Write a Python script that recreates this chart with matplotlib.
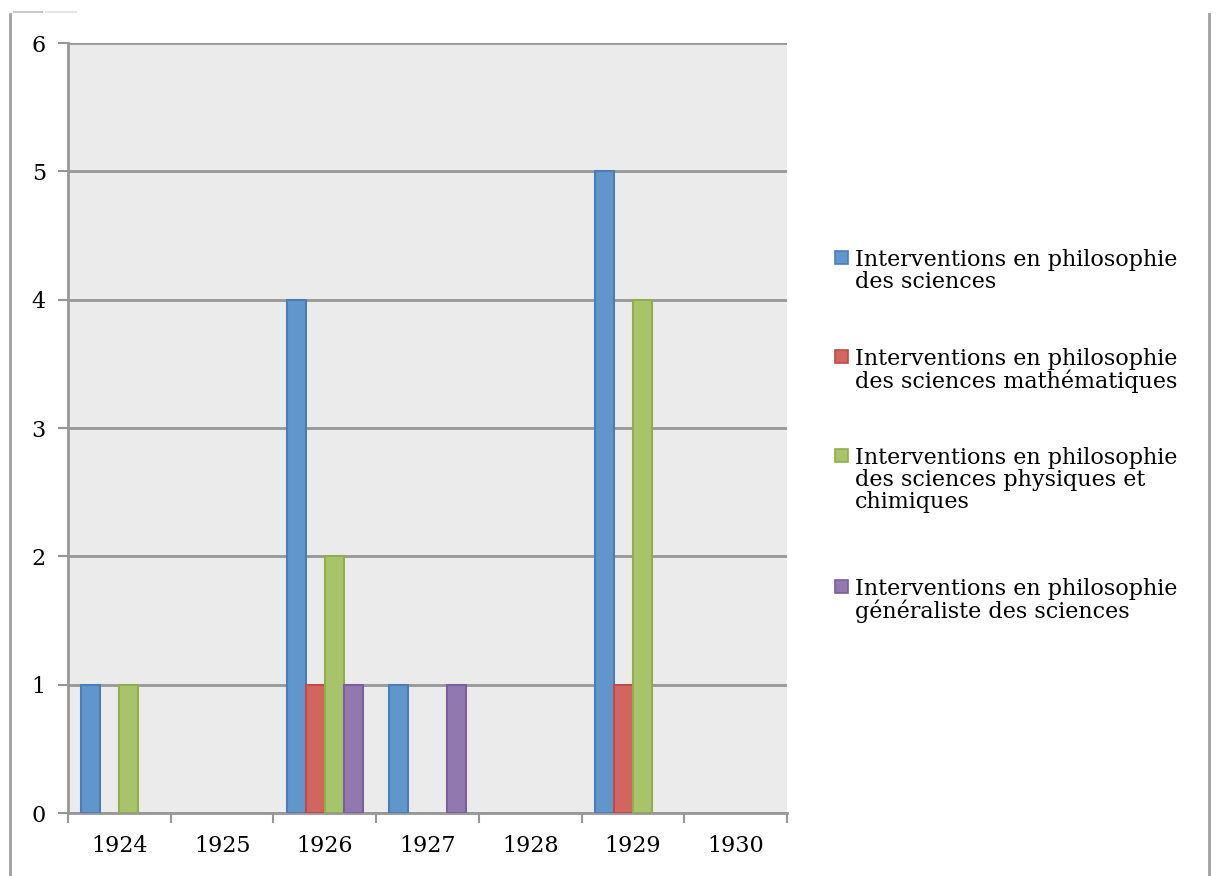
import matplotlib
matplotlib.use("Agg")
import matplotlib.pyplot as plt
from matplotlib.patches import Rectangle
from matplotlib.lines import Line2D
import numpy as np

years = ["1924", "1925", "1926", "1927", "1928", "1929", "1930"]
series_names = [
    "Interventions en philosophie\ndes sciences",
    "Interventions en philosophie\ndes sciences mathématiques",
    "Interventions en philosophie\ndes sciences physiques et\nchimiques",
    "Interventions en philosophie\ngénéraliste des sciences",
]
blue = [1, 0, 4, 1, 0, 5, 0]
red = [0, 0, 1, 0, 0, 1, 0]
green = [1, 0, 2, 0, 0, 4, 0]
purple = [0, 0, 1, 1, 0, 0, 0]
y_ticks = [0, 1, 2, 3, 4, 5, 6]

fills = ["#6096CC", "#D2665F", "#A8C46A", "#9179B0"]
edges = ["#4A7EBB", "#BE4B48", "#8FAF4E", "#7A5F9C"]

FONT = "DejaVu Serif"
FS = 16

fig = plt.figure(figsize=(12.21, 8.76), dpi=100)
ax = fig.add_axes([68/1221, 1-813/876, (787-68)/1221, (813-43)/876])
ax.set_facecolor("#EBEBEB")

bw = 0.185
start = 0.13
for k, vals in enumerate([blue, red, green, purple]):
    xs = [i + start + bw*k for i, v in enumerate(vals) if v > 0]
    hs = [v for v in vals if v > 0]
    ax.bar(xs, hs, width=bw, align="edge", color=fills[k], edgecolor=edges[k],
           linewidth=1.5, zorder=3)

ax.set_xlim(0, 7)
ax.set_ylim(0, 6)
ax.set_yticks(y_ticks)
ax.set_yticklabels([str(t) for t in y_ticks], fontfamily=FONT, fontsize=FS)
ax.yaxis.grid(True, color="#979797", linewidth=2, zorder=1)
ax.set_xticks(np.arange(0, 8))
ax.set_xticklabels([])
ax.set_xticks(np.arange(7) + 0.5, minor=True)
ax.set_xticklabels(years, minor=True, fontfamily=FONT, fontsize=FS)
ax.tick_params(axis="x", which="major", length=7, width=1.5, color="#979797", direction="out")
ax.tick_params(axis="x", which="minor", length=0, pad=16)
ax.tick_params(axis="y", length=7, width=1.5, color="#979797", pad=9)
for s in ["top", "right"]:
    ax.spines[s].set_visible(False)
for s in ["left", "bottom"]:
    ax.spines[s].set_color("#979797")
    ax.spines[s].set_linewidth(2)

# figure border lines
fig.add_artist(Line2D([10/1221, 10/1221], [0, 1-14/876], color="#A0A0A0", linewidth=2))
fig.add_artist(Line2D([1209/1221, 1209/1221], [0, 1-14/876], color="#A0A0A0", linewidth=2))
fig.add_artist(Line2D([14/1221, 42/1221], [1-12/876, 1-12/876], color="#C8C8C8", linewidth=1.5))
fig.add_artist(Line2D([46/1221, 76/1221], [1-12/876, 1-12/876], color="#E6E6E6", linewidth=1.5))

# legend
tops = [258, 357, 456, 587]
for k in range(4):
    yc = tops[k]
    fig.add_artist(Rectangle((835/1221, 1-(yc+6)/876), 13/1221, 13/876,
                             facecolor=fills[k], edgecolor=edges[k], linewidth=1.2,
                             transform=fig.transFigure))
    fig.text(855/1221, 1-(yc-9)/876, series_names[k], fontfamily=FONT, fontsize=FS,
             va="top", ha="left", linespacing=0.99)

fig.savefig("out.png", dpi=100)
